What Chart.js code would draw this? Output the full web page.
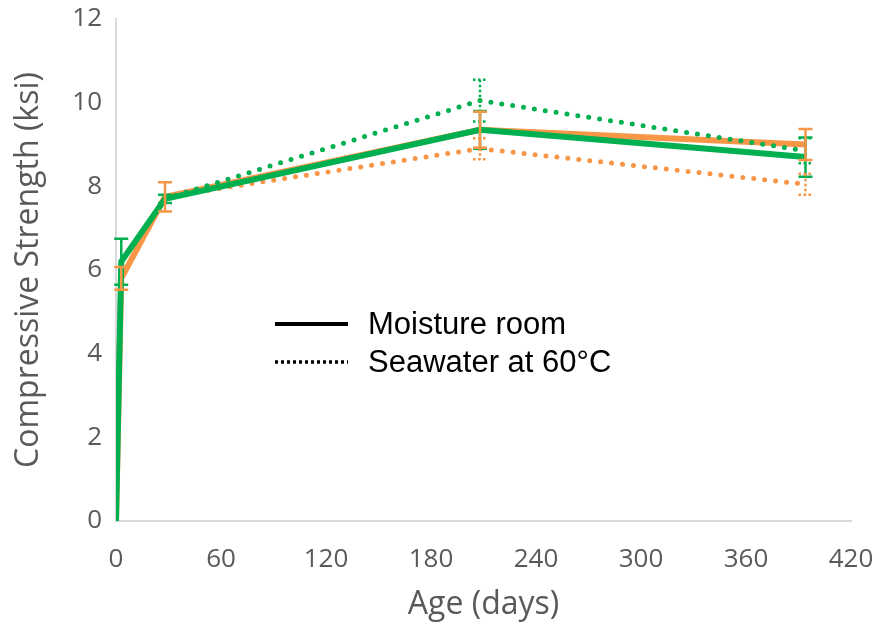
<!DOCTYPE html>
<html>
<head>
<meta charset="utf-8">
<title>Compressive Strength vs Age</title>
<script src="https://cdn.jsdelivr.net/npm/chart.js@4/dist/chart.umd.min.js"></script>
<style>
  html, body { margin: 0; padding: 0; background: #ffffff; }
  #wrap { width: 876px; height: 628px; }
</style>
</head>
<body>
<div id="wrap"><canvas id="chart" width="876" height="628"></canvas></div>
<script>
// Ages (days) at which specimens were tested
const moistureDays = [0, 3, 28, 208, 394];
const seawaterDays = [28, 208, 394];

// Compressive strength (ksi), orange mix
const orangeMoisture = [0, 5.8, 7.75, 9.35, 9.0];
const orangeMoistureErr = [0, 0.27, 0.35, 0.43, 0.37];
const orangeSeawater = [7.75, 8.9, 8.05];
const orangeSeawaterErr = [0, 0.25, 0.25];

// Compressive strength (ksi), green mix
const greenMoisture = [0, 6.2, 7.7, 9.35, 8.7];
const greenMoistureErr = [0, 0.55, 0.1, 0.45, 0.47];
const greenSeawater = [7.7, 10.05, 8.85];
const greenSeawaterErr = [0, 0.5, 0.3];

// Axis ticks
const xTicks = [0, 60, 120, 180, 240, 300, 360, 420];
const yTicks = [0, 2, 4, 6, 8, 10, 12];

const ORANGE = '#F79646';
const GREEN = '#00B050';

function points(days, values) {
  return days.map((d, i) => ({ x: d, y: values[i] }));
}

// Vertical error bars with caps; seawater series use dotted bars
const errorBars = {
  id: 'errorBars',
  afterDatasetsDraw(chart) {
    const { ctx, scales } = chart;
    chart.data.datasets.forEach((ds, di) => {
      const meta = chart.getDatasetMeta(di);
      if (meta.hidden) return;
      ds.data.forEach((p, i) => {
        const e = ds.errors[i];
        if (!e) return;
        const x = scales.x.getPixelForValue(p.x);
        const yt = scales.y.getPixelForValue(p.y + e);
        const yb = scales.y.getPixelForValue(p.y - e);
        const cap = 7;
        ctx.save();
        ctx.strokeStyle = ds.borderColor;
        ctx.lineWidth = 2.5;
        ctx.lineCap = 'butt';
        if (ds.dotted) ctx.setLineDash([2.5, 2.5]);
        ctx.beginPath();
        ctx.moveTo(x, yt); ctx.lineTo(x, yb);
        ctx.moveTo(x - cap, yt); ctx.lineTo(x + cap, yt);
        ctx.moveTo(x - cap, yb); ctx.lineTo(x + cap, yb);
        ctx.stroke();
        ctx.restore();
      });
    });
  }
};

// Line-style key placed inside the plot area
const styleKey = {
  id: 'styleKey',
  afterDraw(chart) {
    const { ctx } = chart;
    const entries = [
      { label: 'Moisture room', dash: [] },
      { label: 'Seawater at 60\u00B0C', dash: [3, 3] }
    ];
    const x0 = 275, x1 = 348, y0 = 324, gap = 38;
    ctx.save();
    entries.forEach((en, i) => {
      const y = y0 + i * gap;
      ctx.strokeStyle = '#000000';
      ctx.lineWidth = en.dash.length ? 3.5 : 4;
      ctx.setLineDash(en.dash);
      ctx.beginPath();
      ctx.moveTo(x0, y); ctx.lineTo(x1, y);
      ctx.stroke();
      ctx.setLineDash([]);
      ctx.fillStyle = '#000000';
      ctx.font = '31px "Liberation Sans", Arial, sans-serif';
      ctx.textBaseline = 'middle';
      ctx.textAlign = 'left';
      ctx.fillText(en.label, 368, y + 1);
    });
    ctx.restore();
  }
};

Chart.defaults.font.family = '"Open Sans", sans-serif';
Chart.defaults.color = '#595959';

new Chart(document.getElementById('chart'), {
  type: 'line',
  data: {
    datasets: [
      {
        label: 'Green, moisture room',
        data: points(moistureDays, greenMoisture),
        errors: greenMoistureErr,
        borderColor: GREEN,
        borderWidth: 6,
        pointRadius: 0,
        tension: 0,
        order: 0
      },
      {
        label: 'Green, seawater at 60\u00B0C',
        data: points(seawaterDays, greenSeawater),
        errors: greenSeawaterErr,
        dotted: true,
        borderColor: GREEN,
        borderWidth: 5,
        borderDash: [0, 11],
        borderCapStyle: 'round',
        pointRadius: 0,
        tension: 0,
        order: 1
      },
      {
        label: 'Orange, moisture room',
        data: points(moistureDays, orangeMoisture),
        errors: orangeMoistureErr,
        borderColor: ORANGE,
        borderWidth: 6,
        pointRadius: 0,
        tension: 0,
        order: 2
      },
      {
        label: 'Orange, seawater at 60\u00B0C',
        data: points(seawaterDays, orangeSeawater),
        errors: orangeSeawaterErr,
        dotted: true,
        borderColor: ORANGE,
        borderWidth: 5,
        borderDash: [0, 11],
        borderCapStyle: 'round',
        pointRadius: 0,
        tension: 0,
        order: 3
      }
    ]
  },
  options: {
    responsive: false,
    animation: false,
    layout: { padding: { top: 19, right: 25, left: 0, bottom: 0 } },
    plugins: {
      legend: { display: false },
      tooltip: { enabled: false }
    },
    scales: {
      x: {
        type: 'linear',
        min: xTicks[0],
        max: xTicks[xTicks.length - 1],
        afterBuildTicks(scale) { scale.ticks = xTicks.map(v => ({ value: v })); },
        afterFit(scale) {
          scale.height = 107;
          scale.paddingLeft = 0;
          scale.paddingRight = 0;
        },
        grid: { display: false, drawTicks: false },
        border: { display: true, color: '#D9D9D9', width: 2 },
        ticks: { padding: 23, font: { size: 26 }, color: '#595959', maxRotation: 0 },
        title: { display: true, text: 'Age (days)', font: { size: 32 }, color: '#595959', padding: { top: 0, bottom: 4 } }
      },
      y: {
        type: 'linear',
        min: yTicks[0],
        max: yTicks[yTicks.length - 1],
        afterBuildTicks(scale) { scale.ticks = yTicks.map(v => ({ value: v })); },
        afterFit(scale) {
          scale.width = 116;
          scale.paddingTop = 0;
          scale.paddingBottom = 0;
        },
        grid: { display: false, drawTicks: false },
        border: { display: true, color: '#D9D9D9', width: 2 },
        ticks: { padding: 14, font: { size: 26 }, color: '#595959' },
        title: { display: true, text: 'Compressive Strength (ksi)', font: { size: 32 }, color: '#595959', padding: { top: 10, bottom: 0 } }
      }
    }
  },
  plugins: [errorBars, styleKey]
});
</script>
</body>
</html>
